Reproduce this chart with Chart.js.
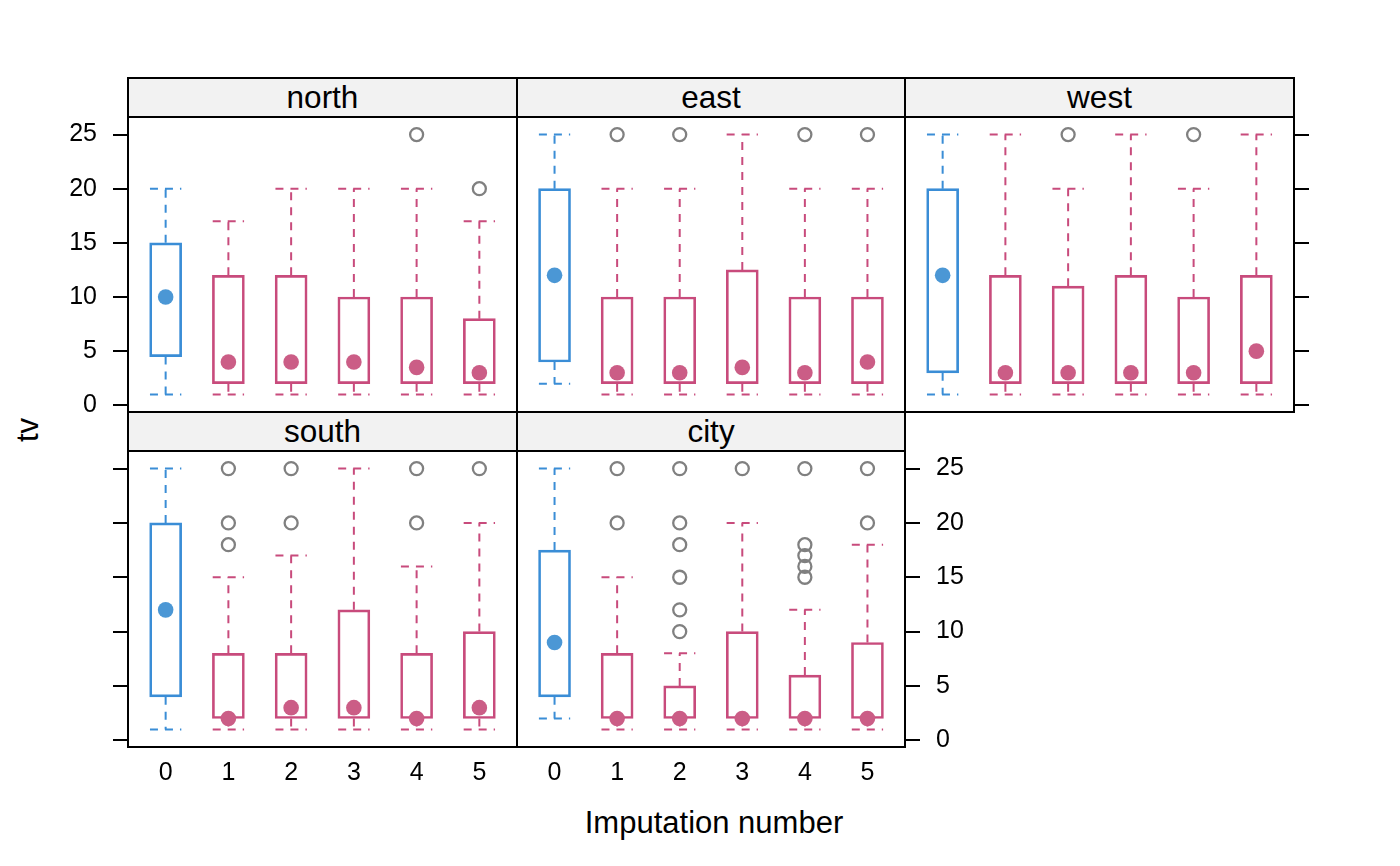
<!DOCTYPE html>
<html>
<head>
<meta charset="utf-8">
<title>tv by imputation number</title>
<script src="https://cdn.jsdelivr.net/npm/chart.js@4.4.1/dist/chart.umd.min.js"></script>
<style>
  body { margin: 0; background: #fff; width: 1400px; height: 866px; position: relative; overflow: hidden;
         font-family: "Liberation Sans", Arial, sans-serif; }
  canvas { position: absolute; }
  .strip { position: absolute; box-sizing: border-box; border: 2px solid #000; background: #f2f2f2;
           font-size: 31.5px; display: flex; align-items: center; justify-content: center; color: #000; }
  .lab { position: absolute; font-size: 31px; white-space: nowrap; color: #000; transform: translate(-50%, -50%); }
</style>
</head>
<body>
<div class="lab" style="left:28px; top:430px; transform: translate(-50%, -50%) rotate(-90deg);">tv</div>
<div class="lab" style="left:714px; top:823px;">Imputation number</div>
<script>
// Data
const regions = ['north', 'east', 'west', 'south', 'city'];
const imputations = [0, 1, 2, 3, 4, 5];
const yTicks = [0, 5, 10, 15, 20, 25];

// one row per region, one column per imputation (0 = observed)
const whiskerLow = [
  [1, 1, 1, 1, 1, 1],
  [2, 1, 1, 1, 1, 1],
  [1, 1, 1, 1, 1, 1],
  [1, 1, 1, 1, 1, 1],
  [2, 1, 1, 1, 1, 1]
];
const boxLow = [
  [4.5, 2, 2, 2, 2, 2],
  [4, 2, 2, 2, 2, 2],
  [3, 2, 2, 2, 2, 2],
  [4, 2, 2, 2, 2, 2],
  [4, 2, 2, 2, 2, 2]
];
const medians = [
  [10, 4, 4, 4, 3.5, 3],
  [12, 3, 3, 3.5, 3, 4],
  [12, 3, 3, 3, 3, 5],
  [12, 2, 3, 3, 2, 3],
  [9, 2, 2, 2, 2, 2]
];
const boxHigh = [
  [15, 12, 12, 10, 10, 8],
  [20, 10, 10, 12.5, 10, 10],
  [20, 12, 11, 12, 10, 12],
  [20, 8, 8, 12, 8, 10],
  [17.5, 8, 5, 10, 6, 9]
];
const whiskerHigh = [
  [20, 17, 20, 20, 20, 17],
  [25, 20, 20, 25, 20, 20],
  [25, 25, 20, 25, 20, 25],
  [25, 15, 17, 25, 16, 20],
  [25, 15, 8, 20, 12, 18]
];
const outliers = [
  [[], [], [], [], [25], [20]],
  [[], [25], [25], [], [25], [25]],
  [[], [], [25], [], [25], []],
  [[], [18, 20, 25], [20, 25], [], [20, 25], [25]],
  [[], [20, 25], [10, 12, 15, 18, 20, 25], [25], [15, 16, 17, 18, 25], [20, 25]]
];

// layout of the lattice panels
const colEdges = [128, 517, 905, 1294];
const stripTops = [78, 412];
const plotTops = [117, 451];
const plotBottoms = [412, 747];
const panels = [
  { col: 0, row: 0, left: 'labels', right: 'none',   bottom: false },
  { col: 1, row: 0, left: 'none',   right: 'none',   bottom: false },
  { col: 2, row: 0, left: 'none',   right: 'ticks',  bottom: false },
  { col: 0, row: 1, left: 'ticks',  right: 'none',   bottom: true },
  { col: 1, row: 1, left: 'none',   right: 'labels', bottom: true }
];

const lineObs = '#3a8dd6';
const lineImp = '#c84b7c';
const dotObs = '#4b97d5';
const dotImp = '#cb5d86';
const AXIS_W = 80;
const AXIS_H = 50;

Chart.defaults.font.family = '"Liberation Sans", Arial, sans-serif';
Chart.defaults.color = '#000';

// black frame round each panel
const panelFrame = {
  id: 'panelFrame',
  afterDraw(chart) {
    const a = chart.chartArea;
    const ctx = chart.ctx;
    ctx.save();
    ctx.lineWidth = 2;
    ctx.strokeStyle = '#000';
    ctx.strokeRect(a.left, a.top, a.right - a.left, a.bottom - a.top);
    ctx.restore();
  }
};

// whisker segments plus dashed caps, broken by null points
function whiskerPoints(r, idxs) {
  const pts = [];
  idxs.forEach(i => {
    const hi = whiskerHigh[r][i], lo = whiskerLow[r][i];
    pts.push({ x: i, y: boxHigh[r][i] }, { x: i, y: hi }, { x: i, y: null });
    pts.push({ x: i - 0.25, y: hi }, { x: i + 0.25, y: hi }, { x: i, y: null });
    pts.push({ x: i, y: boxLow[r][i] }, { x: i, y: lo }, { x: i, y: null });
    pts.push({ x: i - 0.25, y: lo }, { x: i + 0.25, y: lo }, { x: i, y: null });
  });
  return pts;
}

function yAxis(position, mode) {
  return {
    position: position,
    min: -0.62,
    max: 26.62,
    afterBuildTicks: s => { s.ticks = yTicks.map(v => ({ value: v })); },
    afterFit: s => { s.width = AXIS_W; s.paddingTop = 0; s.paddingBottom = 0; },
    grid: { display: mode !== 'none', drawOnChartArea: false, tickLength: 15, lineWidth: 2, color: '#000' },
    border: { display: false },
    ticks: { display: mode === 'labels', padding: 16, font: { size: 25 }, color: '#000' }
  };
}

function makePanel(p, r) {
  const L = colEdges[p.col];
  const W = colEdges[p.col + 1] - L;
  const T = plotTops[p.row];
  const H = plotBottoms[p.row] - T;

  const strip = document.createElement('div');
  strip.className = 'strip';
  strip.textContent = regions[r];
  strip.style.left = (L - 1) + 'px';
  strip.style.width = (W + 2) + 'px';
  strip.style.top = (stripTops[p.row] - 1) + 'px';
  strip.style.height = (T - stripTops[p.row] + 2) + 'px';
  document.body.appendChild(strip);

  const canvas = document.createElement('canvas');
  canvas.width = W + 2 * AXIS_W;
  canvas.height = H + AXIS_H;
  canvas.style.width = canvas.width + 'px';
  canvas.style.height = canvas.height + 'px';
  canvas.style.left = (L - AXIS_W) + 'px';
  canvas.style.top = T + 'px';
  document.body.appendChild(canvas);

  const outPts = [];
  imputations.forEach(i => outliers[r][i].forEach(v => outPts.push({ x: i, y: v })));

  new Chart(canvas, {
    type: 'bar',
    data: {
      datasets: [
        {
          type: 'line',
          data: imputations.map(i => ({ x: i, y: medians[r][i] })),
          showLine: false,
          pointRadius: 7.8,
          pointBorderWidth: 0,
          pointBorderColor: 'rgba(0,0,0,0)',
          pointBackgroundColor: imputations.map(i => i === 0 ? dotObs : dotImp),
          order: 0
        },
        {
          type: 'line',
          data: outPts,
          showLine: false,
          pointRadius: 6.5,
          pointBorderWidth: 2.3,
          pointBorderColor: '#808080',
          pointBackgroundColor: 'rgba(0,0,0,0)',
          order: 1
        },
        {
          type: 'line',
          data: whiskerPoints(r, [0]),
          borderColor: lineObs,
          borderWidth: 2,
          borderDash: [8, 7],
          pointRadius: 0,
          spanGaps: false,
          order: 2
        },
        {
          type: 'line',
          data: whiskerPoints(r, imputations.slice(1)),
          borderColor: lineImp,
          borderWidth: 2,
          borderDash: [8, 7],
          pointRadius: 0,
          spanGaps: false,
          order: 2
        },
        {
          type: 'bar',
          data: imputations.map(i => ({ x: i, y: [boxLow[r][i], boxHigh[r][i]] })),
          backgroundColor: 'rgba(0,0,0,0)',
          borderColor: imputations.map(i => i === 0 ? lineObs : lineImp),
          borderWidth: 2,
          borderSkipped: false,
          barThickness: 32,
          grouped: false,
          order: 3
        }
      ]
    },
    options: {
      responsive: false,
      animation: false,
      devicePixelRatio: 1,
      layout: { padding: 0, autoPadding: false },
      plugins: { legend: { display: false }, tooltip: { enabled: false } },
      scales: {
        x: {
          type: 'linear',
          min: -0.6,
          max: 5.6,
          offset: false,
          afterBuildTicks: s => { s.ticks = imputations.map(v => ({ value: v })); },
          afterFit: s => { s.height = AXIS_H; s.paddingLeft = 0; s.paddingRight = 0; },
          grid: { display: false, offset: false },
          border: { display: false },
          ticks: { display: p.bottom, padding: 3, font: { size: 25 }, color: '#000', maxRotation: 0, autoSkip: false }
        },
        y: yAxis('left', p.left),
        y2: yAxis('right', p.right)
      }
    },
    plugins: [panelFrame]
  });
}

panels.forEach((p, r) => makePanel(p, r));
</script>
</body>
</html>
